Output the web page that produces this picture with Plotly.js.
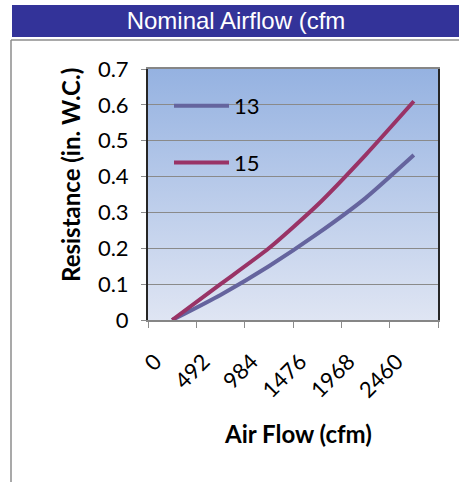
<!DOCTYPE html>
<html>
<head>
<meta charset="utf-8">
<script src="https://cdn.plot.ly/plotly-3.0.1.min.js"></script>
<style>html,body{margin:0;padding:0;background:#fff;}#chart{width:459px;height:482px;}</style>
</head>
<body>
<div id="chart"></div>
<script>
var categories = ['0', '492', '984', '1476', '1968', '2460'];
var series13 = [0, 0.07, 0.15, 0.24, 0.34, 0.46];
var series15 = [0, 0.10, 0.20, 0.32, 0.46, 0.61];
var seriesNames = ['13', '15'];
var yTicks = [0, 0.1, 0.2, 0.3, 0.4, 0.5, 0.6, 0.7];

var W = 459, H = 482;
var L = 148, R = 438, T = 69, B = 320;
function px(x) { return (x - L) / (R - L); }
function py(y) { return (B - y) / (B - T); }

var grad = '<svg xmlns="http://www.w3.org/2000/svg" width="100" height="100" preserveAspectRatio="none">' +
  '<defs><linearGradient id="g" x1="0" y1="0" x2="0" y2="1">' +
  '<stop offset="0" stop-color="#95b2e1"/><stop offset="1" stop-color="#dfe5f3"/></linearGradient></defs>' +
  '<rect width="100" height="100" fill="url(#g)"/></svg>';
var gradSrc = 'data:image/svg+xml;charset=utf-8,' + encodeURIComponent(grad);

var traces = [
  {x: categories, y: series13, name: seriesNames[0], type: 'scatter', mode: 'lines',
   line: {color: '#65649e', width: 4, shape: 'spline', smoothing: 0.6}, legendgroup: 'a'},
  {x: categories, y: series15, name: seriesNames[1], type: 'scatter', mode: 'lines',
   line: {color: '#993366', width: 4, shape: 'spline', smoothing: 0.6}, legendgroup: 'b'}
];

var tickFont = {family: 'Lato, "Open Sans", sans-serif', size: 22, color: '#000'};

var layout = {
  width: W, height: H,
  margin: {l: L, r: W - R, t: T, b: H - B, pad: 0},
  paper_bgcolor: '#ffffff',
  plot_bgcolor: 'rgba(0,0,0,0)',
  showlegend: true,
  title: {text: 'Nominal Airflow (cfm', font: {family: '"Liberation Sans", Arial, sans-serif', size: 24, color: '#ffffff'},
          x: 236 / W, xanchor: 'center', y: 1 - 21 / H, yanchor: 'middle', xref: 'container', yref: 'container'},
  legend: {x: px(169), y: py(85), xanchor: 'left', yanchor: 'top', bgcolor: 'rgba(0,0,0,0)', itemwidth: 55,
           font: {family: 'Lato, sans-serif', size: 22, color: '#000'}, traceorder: 'grouped', tracegroupgap: 25},
  xaxis: {type: 'category', range: [-0.5, 5.5], tickson: 'boundaries', ticks: 'outside', ticklen: 6,
          tickcolor: '#8c8c8c', tickwidth: 1, tickangle: -45, tickfont: tickFont,
          ticklabelstandoff: 18, ticklabelshift: -17,
          showline: true, linecolor: '#868686', linewidth: 2, mirror: true, showgrid: false, zeroline: false, fixedrange: true},
  yaxis: {range: [0, 0.7], tickvals: yTicks, ticktext: yTicks.map(String), ticks: 'outside', ticklen: 5,
          tickcolor: '#8c8c8c', tickwidth: 1, tickfont: tickFont, ticklabelstandoff: 8,
          showline: true, linecolor: '#262626', linewidth: 2, mirror: true,
          showgrid: true, gridcolor: '#8a8a8a', gridwidth: 1, zeroline: false, fixedrange: true},
  images: [{source: gradSrc, xref: 'paper', yref: 'paper', x: 0, y: 1, sizex: 1, sizey: 1,
            xanchor: 'left', yanchor: 'top', sizing: 'stretch', layer: 'below'}],
  shapes: [
    {type: 'rect', xref: 'paper', yref: 'paper', x0: px(12), x1: px(459), y0: py(37), y1: py(5),
     fillcolor: '#333399', line: {width: 0}, layer: 'below'},
    {type: 'line', xref: 'paper', yref: 'paper', x0: px(11), x1: px(459), y0: py(40), y1: py(40),
     line: {color: '#8c8c8c', width: 1.5}},
    {type: 'line', xref: 'paper', yref: 'paper', x0: px(11), x1: px(11), y0: py(40), y1: py(482),
     line: {color: '#8c8c8c', width: 1.5}}
  ],
  annotations: [
    {text: '<b>Resistance (in. W.C.)</b>', xref: 'paper', yref: 'paper', x: px(70), y: py(175),
     xanchor: 'center', yanchor: 'middle', textangle: -90, showarrow: false,
     font: {family: 'Lato, sans-serif', size: 24, color: '#000'}},
    {text: '<b>Air Flow (cfm)</b>', xref: 'paper', yref: 'paper', x: px(298), y: py(433),
     xanchor: 'center', yanchor: 'middle', showarrow: false,
     font: {family: 'Lato, sans-serif', size: 24, color: '#000'}}
  ]
};

Plotly.newPlot('chart', traces, layout, {displayModeBar: false, staticPlot: true});
</script>
</body>
</html>
